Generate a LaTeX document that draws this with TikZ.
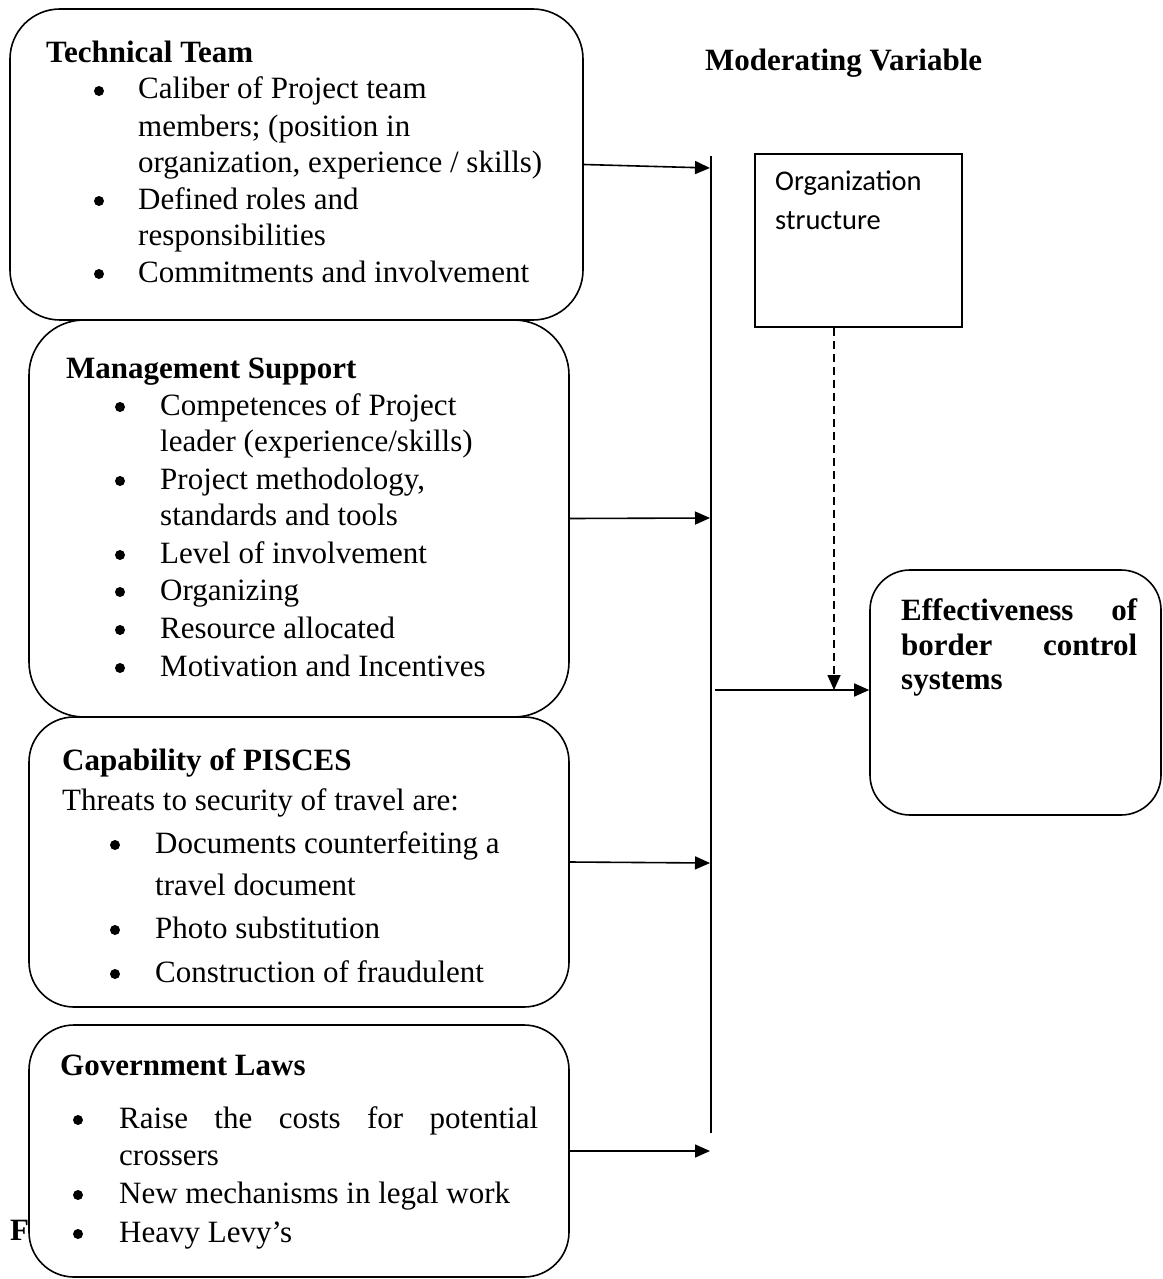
\documentclass[tikz,border=0pt]{standalone}
\usepackage{fontspec}
\setmainfont{Liberation Serif}
\newfontfamily\calib{Carlito}
\usetikzlibrary{arrows.meta}
\begin{document}
\begin{tikzpicture}[x=1pt,y=-1pt,
  box/.style={draw, line width=1.6pt, inner sep=0pt},
  txt/.style={anchor=base west, inner sep=0pt, font=\fontsize{31}{36}\selectfont},
  hd/.style={anchor=base west, inner sep=0pt, font=\fontsize{31}{36}\selectfont\bfseries},
  bul/.style={circle, fill, inner sep=0pt, minimum size=10pt},
  sans/.style={anchor=base west, inner sep=0pt, font=\fontsize{28.5}{34}\selectfont\calib},
  arr/.style={-{Triangle[length=15pt,width=13pt]}, line width=1.6pt},
]
\useasboundingbox (0,0) rectangle (1162,1279);

% ---------- boxes ----------
\node[box, rounded corners=50pt, minimum width=573pt, minimum height=311pt] (tt) at (296.5,164.5) {};
\node[box, rounded corners=55pt, minimum width=540pt, minimum height=397pt] (ms) at (299,518.5) {};
\node[box, rounded corners=45pt, minimum width=540pt, minimum height=290pt] (cp) at (299,862) {};
\node[box, rounded corners=45pt, minimum width=540pt, minimum height=252pt] (gl) at (299,1151) {};
\node[box, minimum width=207pt, minimum height=173pt] (org) at (858.5,240.5) {};
\node[box, rounded corners=40pt, minimum width=291pt, minimum height=245pt] (eff) at (1015.5,692.5) {};

% ---------- Technical Team ----------
\node[hd] (tth) at (46,63) {Technical Team};
\foreach \y/\t [count=\i] in {99/{Caliber of Project team}, 136/{members; (position in}, 172/{organization, experience / skills)}, 209/{Defined roles and}, 245/{responsibilities}, 282/{Commitments and involvement}}
  \node[txt] (ttl\i) at (138,\y) {\t};
\foreach \y [count=\i] in {99,209,282}
  \node[bul] (ttb\i) at (99,{\y-8}) {};

% ---------- Management Support ----------
\node[hd] (msh) at (66,378) {Management Support};
\foreach \y/\t [count=\i] in {415/{Competences of Project}, 451/{leader (experience/skills)}, 489/{Project methodology,}, 525/{standards and tools}, 563/{Level of involvement}, 600/{Organizing}, 638/{Resource allocated}, 676/{Motivation and Incentives}}
  \node[txt] (msl\i) at (160,\y) {\t};
\foreach \y [count=\i] in {415,489,563,600,638,676}
  \node[bul] (msb\i) at (120,{\y-8}) {};

% ---------- Capability of PISCES ----------
\node[hd] (cph) at (62,770) {Capability of PISCES};
\node[txt] (cpt) at (62,810) {Threats to security of travel are:};
\foreach \y/\t [count=\i] in {853/{Documents counterfeiting a}, 895/{travel document}, 938/{Photo substitution}, 982/{Construction of fraudulent}}
  \node[txt] (cpl\i) at (155,\y) {\t};
\foreach \y [count=\i] in {853,938,982}
  \node[bul] (cpb\i) at (115,{\y-8}) {};

% ---------- Government Laws ----------
\node[hd] (fig) at (10,1240) {F};
\node[hd] (glh) at (60,1075) {Government Laws};
\node[txt] (gll1) at (119,1128) {\makebox[419pt][s]{Raise the costs for potential}};
\node[txt] (gll2) at (119,1165) {crossers};
\node[txt] (gll3) at (119,1203) {New mechanisms in legal work};
\node[txt] (gll4) at (119,1242) {Heavy Levy’s};
\foreach \y [count=\i] in {1128,1203,1242}
  \node[bul] (glb\i) at (78,{\y-8}) {};

% ---------- right side ----------
\node[hd] (mv) at (705,71) {Moderating Variable};
\node[sans] (org1) at (775,190) {Organization};
\node[sans] (org2) at (775,229) {structure};
\node[hd] (eff1) at (901,620) {\makebox[236pt][s]{Effectiveness of}};
\node[hd] (eff2) at (901,655) {\makebox[236pt][s]{border control}};
\node[hd] (eff3) at (901,689) {systems};

% ---------- connectors ----------
\coordinate (bartop) at (711,156);
\coordinate (barbot) at (711,1133);
\draw[line width=1.6pt] (bartop) -- (barbot);
\coordinate (e1) at (710,168);
\coordinate (e2) at (710,518);
\coordinate (e3) at (710,863);
\coordinate (e4) at (710,1151);
\draw[arr] (tt.east) -- (e1);
\draw[arr] (ms.east) -- (e2);
\draw[arr] (cp.east) -- (e3);
\draw[arr] (gl.east) -- (e4);
\coordinate (hs) at (715,690);
\draw[arr] (hs) -- (hs -| eff.west);
\draw[arr, dash pattern=on 8pt off 5pt] ([xshift=-24.5pt]org.south) -- ([xshift=-24.5pt]org.south |- hs);
\end{tikzpicture}
\end{document}
